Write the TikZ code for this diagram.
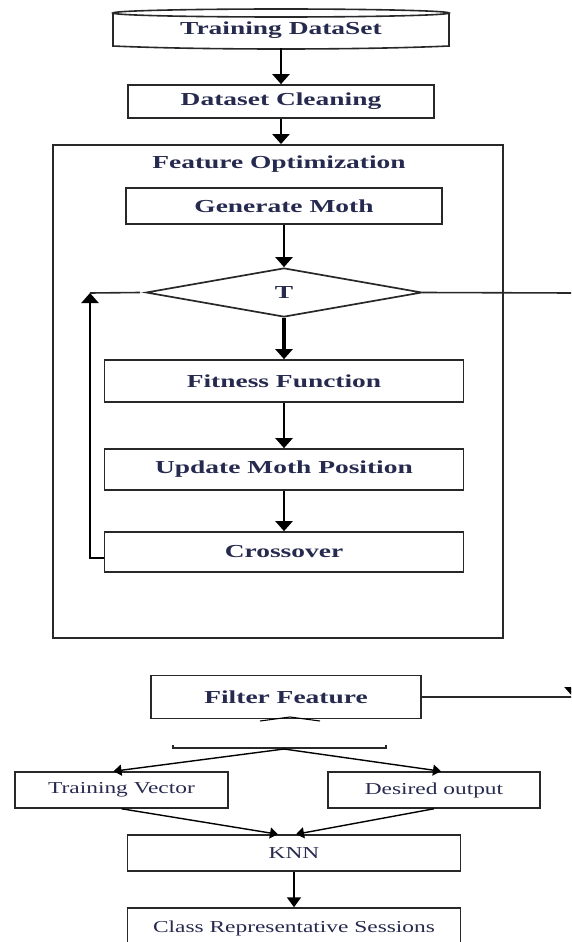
\documentclass[tikz,border=0pt]{standalone}
\usepackage{fontspec}
\usetikzlibrary{arrows.meta,shapes.geometric}
\newfontface\boldwide[FakeStretch=1.5]{Liberation Serif Bold}
\newfontface\plainwide[FakeStretch=1.4]{Liberation Serif}
\definecolor{ink}{RGB}{38,42,78}
\definecolor{edge}{RGB}{40,40,40}
\begin{document}
\begin{tikzpicture}[x=1pt,y=-1pt,
  box/.style={draw=edge, line width=1.7pt, inner sep=0pt, text=ink, font=\fontsize{18.3}{20}\boldwide},
  lowbox/.style={draw=edge, line width=1.5pt, inner sep=0pt, text=ink, font=\fontsize{16.7}{18}\plainwide},
  flowarr/.style={draw=black, line width=2.5pt, -{Triangle[width=17pt,length=10pt]}},
  lowarr/.style={draw=black, line width=1.4pt, -{Triangle[width=11pt,length=8pt]}},
  plainline/.style={draw=edge, line width=1.6pt}]
\def\xtop{281}
\def\xmid{284}

\useasboundingbox (0,0) rectangle (571,942);
\clip (0,0) rectangle (571,942);

% stored data on top
\node[box, draw=none, minimum width=336, minimum height=34] (data) at (\xtop,30) {Training DataSet};
\draw[plainline] (\xtop,13) ellipse [x radius=168, y radius=4];
\draw[plainline] (\xtop-168,13) -- (\xtop-168,46) .. controls (\xtop-80,50) and (\xtop+80,50) .. (\xtop+168,46) -- (\xtop+168,13);

\node[box, minimum width=306, minimum height=33] (clean) at (\xtop,101.5) {Dataset Cleaning};

% optimisation block
\node[draw=edge, line width=1.9pt, minimum width=450, minimum height=493] (opt) at (278,391.5) {};
\node[text=ink, font=\fontsize{18.3}{20}\boldwide] (optlabel) at (279,164) {Feature Optimization};

\node[box, minimum width=316, minimum height=36] (gen) at (\xmid,206) {Generate Moth};
\node[box, shape=diamond, minimum width=276, minimum height=49] (dec) at (\xmid,292.5) {T};
\node[box, minimum width=359, minimum height=42] (fit) at (\xmid,381) {Fitness Function};
\node[box, minimum width=359, minimum height=41] (upd) at (\xmid,469.5) {Update Moth Position};
\node[box, minimum width=359, minimum height=40] (cross) at (\xmid,552) {Crossover};

\draw[flowarr] (data.south) -- (clean.north);
\draw[flowarr] (clean.south) -- (clean.south |- opt.north);
\draw[flowarr] (gen.south) -- (dec.north);
\draw[flowarr, line width=3.6pt] (dec.south) -- (fit.north);
\draw[flowarr] (fit.south) -- (upd.north);
\draw[flowarr] (upd.south) -- (cross.north);

% loop back to the test
\coordinate (lc) at (90,293);
\draw[flowarr] ([yshift=-6pt]cross.west) -| (lc);
\draw[plainline] (lc) -- ([xshift=-5pt]dec.west);

% exit to the right
\coordinate (rt) at (573,293);
\coordinate (rb) at (573,697);
\draw[plainline] (dec.east) -- (rt);
\draw[flowarr] (rt) -- (rb);

% lower part
\node[box, minimum width=270, minimum height=43] (filt) at (286,697) {Filter Feature};
\draw[plainline] (filt.east) -- (rb);
\draw[draw=black, line width=1.1pt] (260,721) -- (290,717) -- (320,721);
\draw[draw=edge, line width=1.3pt] (173,745) -- (173,748) -- (386,748) -- (386,745);
\coordinate (brk) at (284,749);

\node[lowbox, minimum width=213, minimum height=36] (tv) at (121.5,790) {Training Vector};
\node[lowbox, minimum width=212, minimum height=36] (do) at (434,790) {Desired output};
\node[lowbox, minimum width=333, minimum height=36] (knn) at (294,853) {KNN};
\node[lowbox, minimum width=333, minimum height=40] (cls) at (294,928) {Class Representative Sessions};

\draw[lowarr] (brk) -- ([xshift=-8pt]tv.north);
\draw[lowarr] (brk) -- ([xshift=7pt]do.north);
\draw[lowarr] (tv.south) -- ([xshift=-16pt]knn.north);
\draw[lowarr] (do.south) -- ([xshift=2pt]knn.north);
\draw[lowarr, line width=1.9pt, -{Triangle[width=14pt,length=10pt]}] (knn.south) -- (cls.north);

\end{tikzpicture}
\end{document}
